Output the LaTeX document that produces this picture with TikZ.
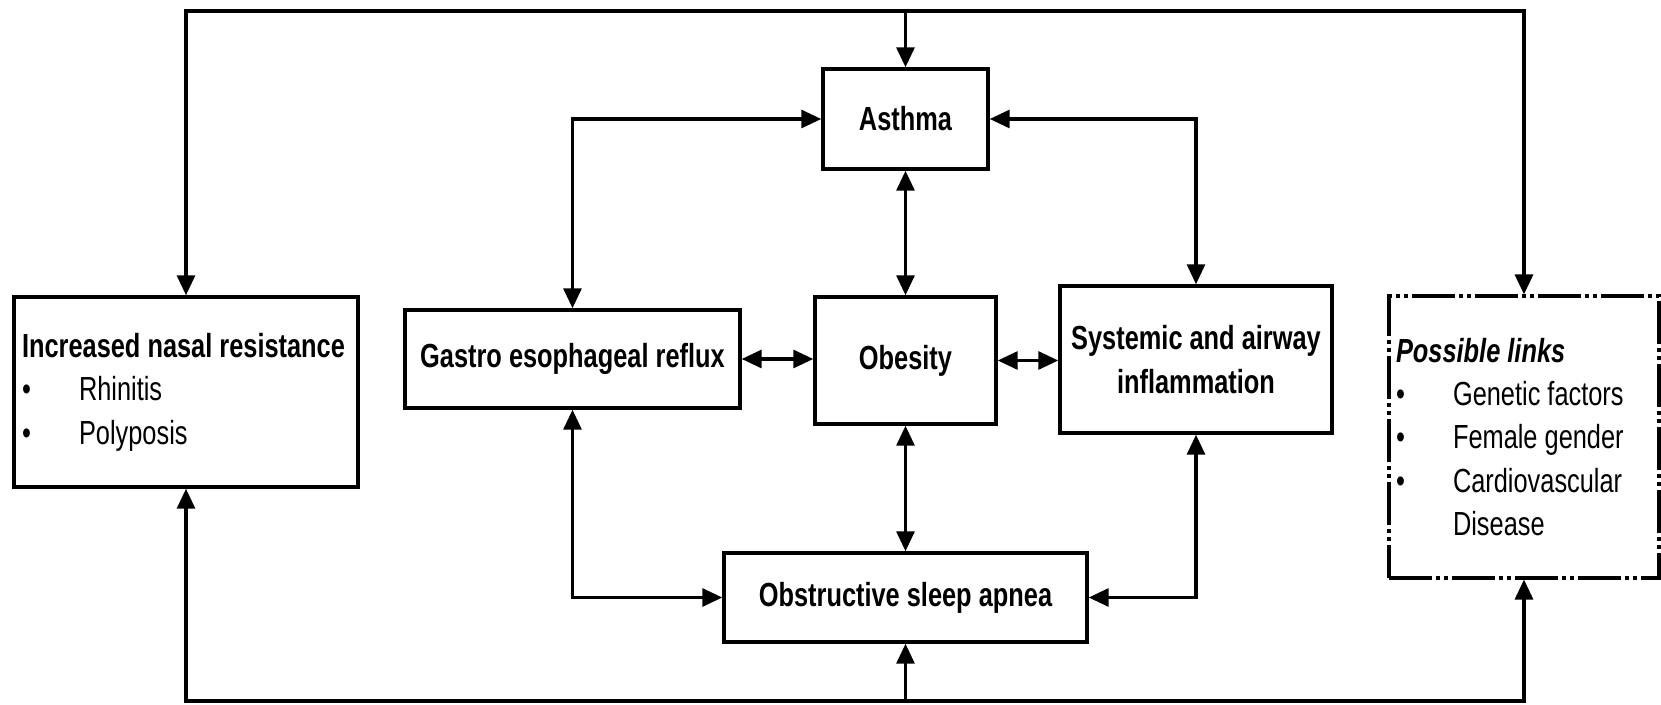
\documentclass[tikz,border=0pt]{standalone}
\usepackage{fontspec}
\setmainfont{Liberation Sans}[FakeStretch=0.76]
\usetikzlibrary{arrows.meta}

\tikzset{
  box/.style={draw, line width=2pt, align=center, inner sep=0pt,
    font=\fontsize{19}{24.7}\selectfont\bfseries},
  listbox/.style={draw, line width=2pt, align=flush left, inner ysep=0pt,
    font=\fontsize{19}{24.7}\selectfont},
  link/.style={line width=1.8pt, -{Triangle[length=0.4cm,width=0.36cm]}},
  both/.style={line width=1.8pt, {Triangle[length=0.4cm,width=0.36cm]}-{Triangle[length=0.4cm,width=0.36cm]}},
}
\newcommand{\itm}{\makebox[1.14cm][l]{\textbullet}}

\begin{document}
\begin{tikzpicture}[x=0.02cm, y=-0.02cm]
	\useasboundingbox[fill=white] (0,0) rectangle (1661,705);

	% boxes
	\node[box, minimum width=3.3cm, minimum height=2cm] (asthma) at (905.5,119) {Asthma};
	\node[box, minimum width=3.62cm, minimum height=2.54cm] (obesity) at (905.5,360.5) {Obesity};
	\node[box, minimum width=6.7cm, minimum height=1.96cm] (gastro) at (572.5,359) {Gastro esophageal reflux};
	\node[box, minimum width=5.44cm, minimum height=2.94cm] (systemic) at (1196,359.5) {Systemic and airway\\inflammation};
	\node[box, minimum width=7.26cm, minimum height=1.78cm] (osa) at (905.5,597.5) {Obstructive sleep apnea};

	\node[listbox, text width=6.56cm, inner xsep=0.16cm, minimum height=3.8cm] (nasal) at (186,392)
		{\textbf{Increased nasal resistance}\\\itm Rhinitis\\\itm Polyposis};
	\node[listbox, line width=1.8pt, dash pattern=on 0.86cm off 0.08cm on 0.08cm off 0.08cm on 0.08cm off 0.08cm,
		text width=5.12cm, inner xsep=0.14cm, minimum height=5.64cm] (links) at (1524,437)
		{\textbf{\textit{Possible links}}\\\itm Genetic factors\\\itm Female gender\\\itm Cardiovascular\\\hspace*{1.14cm}Disease};

	% loops round the picture
	\coordinate (ctop) at (905.5,11);
	\coordinate (cbot) at (905.5,701);
	\draw[both] (nasal.north) |- (ctop) -| (links.north);
	\draw[link] (ctop) -- (asthma.north);
	\draw[both] (nasal.south) |- (cbot) -| (links.south);
	\draw[link] (cbot) -- (osa.south);

	% links between the boxes
	\draw[both] (gastro.north) |- (asthma.west);
	\draw[both] (systemic.north) |- (asthma.east);
	\draw[both] (asthma) -- (obesity);
	\draw[both] (obesity) -- (osa);
	\draw[both] (gastro.east) -- (gastro.east -| obesity.west);
	\draw[both] (obesity.east) -- (obesity.east -| systemic.west);
	\draw[both] (gastro.south) |- (osa.west);
	\draw[both] (systemic.south) |- (osa.east);
\end{tikzpicture}
\end{document}
